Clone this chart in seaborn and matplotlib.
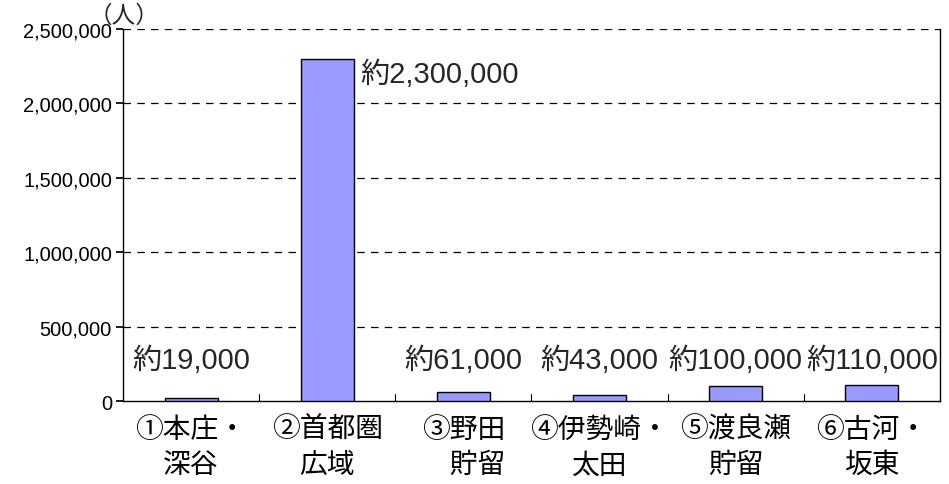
"""
地域別の人数（棒グラフ）— out.png に保存
"""

import matplotlib
matplotlib.use('Agg')
import matplotlib.pyplot as plt
import seaborn as sns
import pandas as pd

categories = ['①本庄・\n深谷', '②首都圏\n広域', '③野田\n\u3000貯留',
              '④伊勢崎・\n太田', '⑤渡良瀬\n貯留', '⑥古河・\n坂東']
values = [19000, 2300000, 61000, 43000, 100000, 110000]
value_labels = ['約19,000', '約2,300,000', '約61,000', '約43,000', '約100,000', '約110,000']
y_ticks = [0, 500000, 1000000, 1500000, 2000000, 2500000]

sns.set_theme(style='white')
fonts = ['Liberation Sans', 'Noto Sans CJK JP', 'DejaVu Sans']
cjk = ['Noto Sans CJK JP', 'DejaVu Sans']
plt.rcParams['font.family'] = fonts

df = pd.DataFrame({'area': categories, 'people': values})

fig = plt.figure(figsize=(9.49, 4.85), dpi=100)
ax = fig.add_axes([0.1296, 0.1711, 0.8609, 0.767])

sns.barplot(data=df, x='area', y='people', color='#9999FF', saturation=1,
            edgecolor='black', linewidth=1, width=0.39, ax=ax, zorder=3)

ax.set_xlim(-0.5, len(categories) - 0.5)
ax.set_ylim(0, 2500000)
ax.set_yticks(y_ticks)
ax.set_yticklabels([f'{v:,}' for v in y_ticks], fontsize=14.5, color='black')
ax.set_xlabel('')
ax.set_ylabel('')

# ラベル（x軸）
ax.set_xticks(range(len(categories)))
ax.set_xticklabels(categories, fontsize=20, color='black', linespacing=1.25,
                   family=cjk)
ax.tick_params(axis='x', length=0, pad=9)
ax.tick_params(axis='y', length=5, direction='out', left=True, pad=3, color='black')

# 区切り目盛り
for b in [i + 0.5 for i in range(len(categories) - 1)]:
    ax.plot([b, b], [0, 47000], color='black', lw=0.8, zorder=4)

# 破線グリッド
for v in y_ticks[1:]:
    ax.axhline(v, color='black', lw=0.9, ls=(0, (6, 5)), zorder=1)

for s in ['left', 'bottom', 'right']:
    ax.spines[s].set_visible(True)
    ax.spines[s].set_color('black')
    ax.spines[s].set_linewidth(1)
ax.spines['top'].set_visible(False)

# 値ラベル
for i, (v, t) in enumerate(zip(values, value_labels)):
    if v > 1000000:
        ax.text(i + 0.24, 2200000, t, ha='left', va='center', fontsize=21,
                family=fonts, zorder=5,
                bbox=dict(facecolor='white', edgecolor='none', pad=0.5))
    else:
        ax.text(i, 275000, t, ha='center', va='center', fontsize=21,
                family=fonts, zorder=5, clip_on=False,
                bbox=dict(facecolor='white', edgecolor='none', pad=0.5))

fig.text(0.131, 0.966, '（人）', ha='center', va='center', fontsize=17,
         family=cjk)

fig.savefig('out.png', dpi=100)
